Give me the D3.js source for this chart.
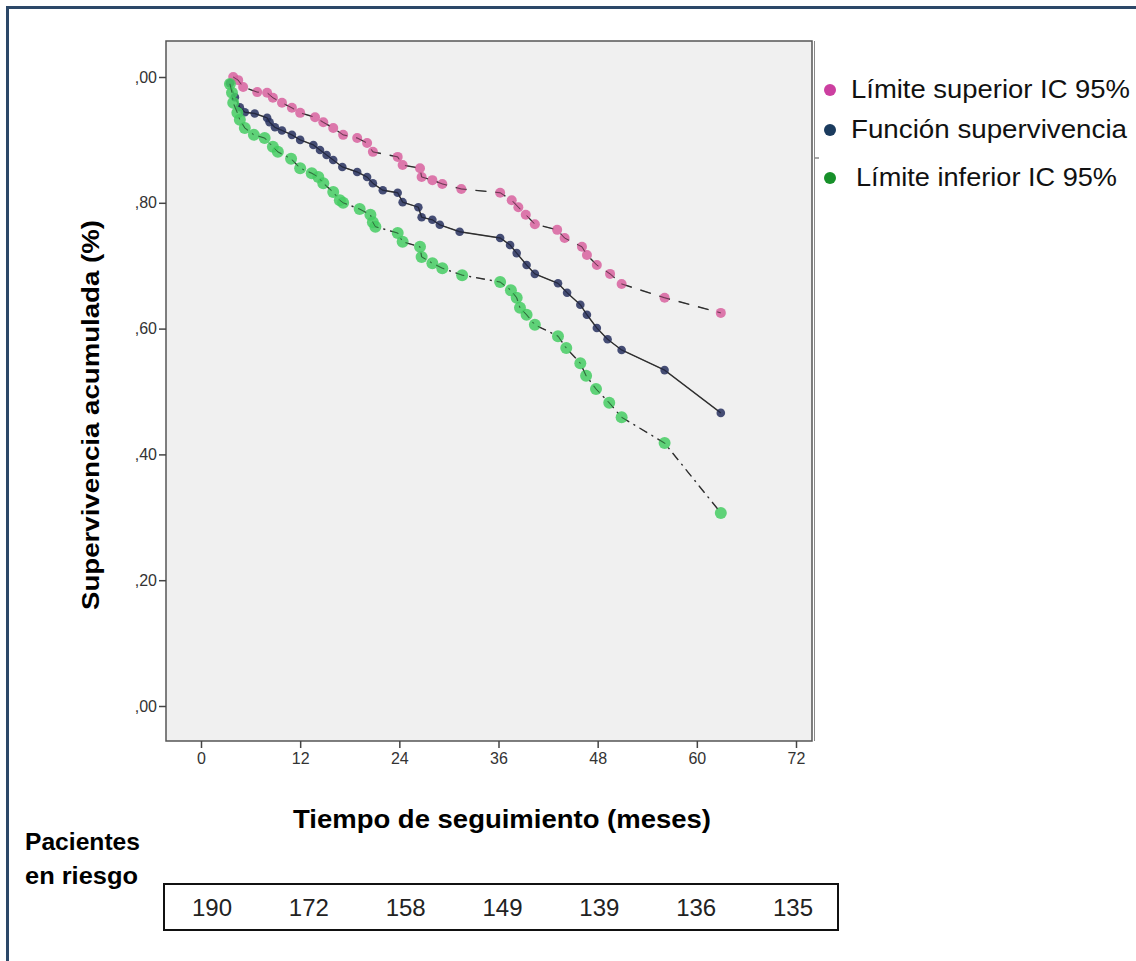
<!DOCTYPE html>
<html>
<head>
<meta charset="utf-8">
<script src="https://cdn.jsdelivr.net/npm/d3@7"></script>
<style>
  body { margin: 0; background: #fff; }
  svg { display: block; }
</style>
</head>
<body>
<div id="chart"></div>
<script>
// Kaplan-Meier survival with 95% CI (months, cumulative survival)
const upperT = [3.9, 4.5, 5.1, 6.8, 8.0, 8.7, 9.8, 11.0, 12.0, 13.8, 14.8, 16.0, 17.2, 18.9, 20.1, 20.8,
  23.8, 24.4, 26.5, 26.7, 28.0, 29.2, 31.5, 36.2, 37.6, 38.4, 39.3, 40.4, 43.1, 44.0, 46.1, 46.7,
  47.9, 49.5, 50.9, 56.1, 62.9];
const upperV = [1.0, 0.995, 0.984, 0.976, 0.975, 0.967, 0.959, 0.951, 0.943, 0.936, 0.928, 0.919, 0.908, 0.903, 0.895, 0.881,
  0.873, 0.860, 0.855, 0.841, 0.836, 0.830, 0.822, 0.816, 0.804, 0.793, 0.781, 0.766, 0.757, 0.744, 0.730, 0.717,
  0.701, 0.687, 0.671, 0.649, 0.625];

const survT = [3.5, 4.1, 4.7, 5.3, 6.5, 8.0, 8.3, 8.95, 9.8, 11.0, 12.0, 13.6, 14.4, 15.2, 16.0, 17.1, 18.9, 20.1,
  20.8, 22.0, 23.8, 24.4, 26.3, 26.7, 28.0, 28.9, 31.3, 36.2, 37.4, 38.2, 39.4, 40.4, 43.2, 44.3, 45.9,
  46.7, 47.9, 49.2, 50.9, 56.1, 62.9];
const survV = [0.990, 0.968, 0.952, 0.944, 0.942, 0.935, 0.928, 0.920, 0.915, 0.908, 0.900, 0.892, 0.884, 0.876, 0.868, 0.857, 0.849, 0.841,
  0.831, 0.820, 0.816, 0.801, 0.793, 0.777, 0.773, 0.765, 0.754, 0.744, 0.733, 0.720, 0.701, 0.687, 0.672, 0.657, 0.638,
  0.622, 0.601, 0.583, 0.566, 0.534, 0.466];

const lowerT = [3.5, 3.75, 3.9, 4.4, 4.7, 5.3, 6.4, 7.7, 8.7, 9.3, 10.9, 12.0, 13.4, 14.2, 14.8, 16.0, 16.8, 17.2,
  19.2, 20.5, 20.8, 21.1, 23.8, 24.4, 26.5, 26.7, 28.0, 29.2, 31.6, 36.2, 37.5, 38.2, 38.6, 39.4, 40.4,
  43.2, 44.2, 45.9, 46.6, 47.8, 49.4, 50.9, 56.1, 62.9];
const lowerV = [0.989, 0.975, 0.959, 0.943, 0.932, 0.919, 0.908, 0.903, 0.889, 0.881, 0.870, 0.855, 0.847, 0.841, 0.831, 0.817, 0.804, 0.800,
  0.790, 0.781, 0.769, 0.762, 0.752, 0.738, 0.730, 0.714, 0.704, 0.696, 0.685, 0.674, 0.661, 0.649, 0.633, 0.622, 0.606,
  0.588, 0.569, 0.545, 0.525, 0.504, 0.482, 0.459, 0.418, 0.307];

const xTicks = [0, 12, 24, 36, 48, 60, 72];
const yTicks = [0, 0.2, 0.4, 0.6, 0.8, 1.0];
const yTickLabels = [",00", ",20", ",40", ",60", ",80", ",00"];
const atRisk = [190, 172, 158, 149, 139, 136, 135];
const legendLabels = ["Límite superior IC 95%", "Función supervivencia", "Límite inferior IC 95%"];

const W = 1136, H = 961;
const plot = { left: 166, top: 41, right: 812, bottom: 741 };
const sans = 'Liberation Sans, Arial, sans-serif';
const narrow = 'Liberation Sans Narrow, Arial Narrow, sans-serif';

const svg = d3.select('#chart').append('svg')
  .attr('width', W).attr('height', H);

// outer frame (top + left edges visible)
svg.append('path')
  .attr('d', 'M7.5,' + H + ' V7.5 H' + W)
  .attr('fill', 'none').attr('stroke', '#2c4868').attr('stroke-width', 3);

const x = d3.scaleLinear().domain([0, 72]).range([201, 796]);
const y = d3.scaleLinear().domain([0, 1]).range([706, 77]);

// plot background
svg.append('rect')
  .attr('x', plot.left).attr('y', plot.top)
  .attr('width', plot.right - plot.left).attr('height', plot.bottom - plot.top)
  .attr('fill', '#f0f0f0').attr('stroke', '#555').attr('stroke-width', 1.5);
svg.append('line')
  .attr('x1', plot.right + 2.5).attr('x2', plot.right + 2.5)
  .attr('y1', plot.top).attr('y2', plot.bottom)
  .attr('stroke', '#888').attr('stroke-width', 1);
svg.append('line')
  .attr('x1', plot.right + 3).attr('x2', plot.right + 7)
  .attr('y1', 158).attr('y2', 158)
  .attr('stroke', '#888').attr('stroke-width', 1.5);

// axes
const xAxis = svg.append('g')
  .attr('transform', 'translate(0,' + plot.bottom + ')')
  .call(d3.axisBottom(x).tickValues(xTicks).tickSize(7).tickPadding(5));
const yAxis = svg.append('g')
  .attr('transform', 'translate(' + plot.left + ',0)')
  .call(d3.axisLeft(y).tickValues(yTicks).tickSize(7).tickPadding(2)
    .tickFormat((d, i) => yTickLabels[i]));
[xAxis, yAxis].forEach(g => {
  g.select('.domain').remove();
  g.selectAll('line').attr('stroke', '#444').attr('stroke-width', 1.5);
  g.selectAll('text').attr('fill', '#333')
    .style('font-family', narrow).style('font-size', '16px');
});

// curves
const line = d3.line().x(d => x(d[0])).y(d => y(d[1]));
const series = [
  { t: upperT, v: upperV, fill: '#d8619f', r: 5, dash: '11,9' },
  { t: survT, v: survV, fill: '#27305e', r: 4.3, dash: null },
  { t: lowerT, v: lowerV, fill: '#45cc63', r: 6, dash: '9,5,2,5' }
];
series.forEach(s => {
  const pts = s.t.map((t, i) => [t, s.v[i]]);
  svg.append('path').datum(pts)
    .attr('d', line).attr('fill', 'none')
    .attr('stroke', '#3a3a3a').attr('stroke-width', 1.4)
    .attr('stroke-dasharray', s.dash);
  svg.append('g').selectAll('circle').data(pts).join('circle')
    .attr('cx', d => x(d[0])).attr('cy', d => y(d[1])).attr('r', s.r)
    .attr('fill', s.fill).attr('fill-opacity', 0.85);
  svg.append('path').datum(pts)
    .attr('d', line).attr('fill', 'none')
    .attr('stroke', '#222').attr('stroke-width', 1).attr('stroke-opacity', 0.55)
    .attr('stroke-dasharray', s.dash);
});

// axis titles
svg.append('text')
  .attr('transform', 'translate(99,415) rotate(-90)')
  .attr('text-anchor', 'middle')
  .attr('textLength', 390).attr('lengthAdjust', 'spacingAndGlyphs')
  .style('font-family', sans)
  .style('font-size', '24px').style('font-weight', 'bold')
  .text('Supervivencia acumulada (%)');
svg.append('text')
  .attr('x', 502).attr('y', 828)
  .attr('text-anchor', 'middle')
  .attr('textLength', 418).attr('lengthAdjust', 'spacingAndGlyphs')
  .style('font-family', sans)
  .style('font-size', '25px').style('font-weight', 'bold')
  .text('Tiempo de seguimiento (meses)');

// legend
const legendColors = ['#cc3fa0', '#1b3b5e', '#17902a'];
const legendY = [90, 130, 178];
const legendX = [851, 851, 856];
const legendW = [279, 276, 261];
legendLabels.forEach((lab, i) => {
  svg.append('circle').attr('cx', 830).attr('cy', legendY[i]).attr('r', 6)
    .attr('fill', legendColors[i]);
  svg.append('text').attr('x', legendX[i]).attr('y', legendY[i] + 8)
    .attr('textLength', legendW[i]).attr('lengthAdjust', 'spacingAndGlyphs')
    .style('font-family', sans)
    .style('font-size', '25px').attr('fill', '#111')
    .text(lab);
});

// patients at risk
svg.append('text').attr('x', 25).attr('y', 850)
  .attr('textLength', 115).attr('lengthAdjust', 'spacingAndGlyphs')
  .style('font-family', sans)
  .style('font-size', '24px').style('font-weight', 'bold')
  .text('Pacientes');
svg.append('text').attr('x', 25).attr('y', 884)
  .attr('textLength', 113).attr('lengthAdjust', 'spacingAndGlyphs')
  .style('font-family', sans)
  .style('font-size', '24px').style('font-weight', 'bold')
  .text('en riesgo');
svg.append('rect')
  .attr('x', 164).attr('y', 884).attr('width', 674).attr('height', 46)
  .attr('fill', '#fff').attr('stroke', '#111').attr('stroke-width', 2);
const riskX = d3.scaleLinear().domain([0, 72]).range([212, 793]);
svg.append('g').selectAll('text').data(atRisk).join('text')
  .attr('x', (d, i) => riskX(xTicks[i])).attr('y', 916)
  .attr('text-anchor', 'middle')
  .style('font-family', narrow)
  .style('font-size', '24px').attr('fill', '#222')
  .text(d => d);
</script>
</body>
</html>
